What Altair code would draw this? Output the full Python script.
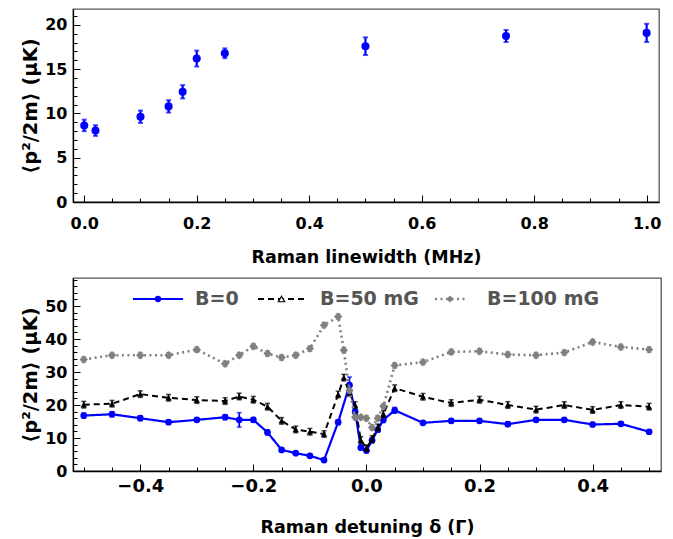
import altair as alt
import pandas as pd

FONT = "DejaVu Sans"
BLUE = "#0000ff"
BLACK = "#000000"
GRAY = "#808080"

# ---------------- top panel data ----------------
lw_x = [0.0, 0.02, 0.1, 0.15, 0.175, 0.2, 0.25, 0.5, 0.75, 1.0]
lw_y = [8.65, 8.07, 9.63, 10.8, 12.45, 16.2, 16.8, 17.6, 18.75, 19.1]
lw_err = [0.65, 0.6, 0.7, 0.7, 0.75, 0.9, 0.55, 1.0, 0.68, 1.03]

# ---------------- bottom panel data ----------------
det_x = [-0.5, -0.45, -0.4, -0.35, -0.3, -0.25, -0.225, -0.2, -0.175, -0.15, -0.125,
         -0.1, -0.075, -0.05, -0.04, -0.03, -0.02, -0.01, 0.0, 0.01, 0.02, 0.03,
         0.05, 0.1, 0.15, 0.2, 0.25, 0.3, 0.35, 0.4, 0.45, 0.5]
b0 = [16.8, 17.2, 16.0, 14.8, 15.5, 16.3, 15.5, 15.5, 11.7, 6.4, 5.4,
      4.6, 3.3, 14.8, None, 26.0, 18.0, 7.1, 6.2, 9.3, 12.5, 15.5,
      18.4, 14.6, 15.2, 15.2, 14.2, 15.5, 15.5, 14.1, 14.3, 11.9]
b0_err = [0.8, 0.8, 0.7, 0.6, 0.6, 0.7, 2.2, 0.7, 0.7, 0.5, 0.5,
          0.5, 0.5, 0.7, None, 2.5, 0.8, 0.7, 0.6, 0.7, 0.7, 0.8,
          0.9, 0.6, 0.6, 0.6, 0.6, 0.6, 0.6, 0.6, 0.6, 0.6]
b50 = [20.1, 20.4, 23.3, 22.2, 21.5, 21.2, 22.6, 21.6, 19.5, 15.2, 12.6,
       11.9, 11.2, 23.2, 28.3, 23.7, 20.0, 9.4, 6.9, 9.7, 13.2, 17.3,
       25.1, 22.5, 20.6, 21.6, 20.0, 18.6, 20.0, 18.5, 20.0, 19.5]
b50_err = [1.0] * 32
b100 = [33.8, 35.1, 35.1, 35.1, 36.8, 32.5, 35.1, 37.8, 35.6, 34.4, 35.1,
        37.1, 44.2, 46.8, 36.6, 24.4, 16.3, 16.3, 16.0, 13.2, 16.0, 19.6,
        32.0, 33.0, 36.1, 36.3, 35.3, 35.1, 35.9, 39.1, 37.6, 36.8]
b100_err = [0.8] * 32

series_names = ["B=0", "B=50 mG", "B=100 mG"]
series_colors = [BLUE, BLACK, GRAY]
series_shapes = ["circle", "triangle-up", "diamond"]
series_dash = [[1, 0], [6, 4], [2, 3.5]]
series_width = [2.2, 2.0, 2.6]
series_size = [45, 40, 70]


def label_axis(values, fmt, title, orient, label_fs, label_pad, title_pad, title_fs):
    return alt.Axis(values=values, format=fmt, title=title, orient=orient,
                    ticks=False, grid=False, domain=True, domainColor="black",
                    domainWidth=1.3, labelFont=FONT, labelFontSize=label_fs,
                    labelFontWeight="bold", labelColor="black", labelFlush=False,
                    labelOverlap=False, labelPadding=label_pad,
                    titleFont=FONT, titleFontSize=title_fs, titleFontWeight="bold",
                    titleColor="black", titlePadding=title_pad)


def tick_axis(values, size, orient):
    return alt.Axis(values=values, orient=orient, labels=False, domain=False,
                    grid=False, ticks=True, tickSize=size, offset=-size,
                    tickColor="black", tickWidth=1)


def frange(a, b, step):
    n = int(round((b - a) / step))
    return [round(a + i * step, 4) for i in range(n + 1)]


# ---------------- top chart ----------------
top_df = pd.DataFrame({"x": lw_x, "y": lw_y, "err": lw_err})
top_df["lo"] = top_df["y"] - top_df["err"]
top_df["hi"] = top_df["y"] + top_df["err"]

txs = alt.Scale(domain=[-0.02, 1.022], nice=False, zero=False)
tys = alt.Scale(domain=[0, 21.8], nice=False, zero=False)
tb = alt.Chart(top_df)

t_rules = tb.mark_rule(color=BLUE, strokeWidth=2.2).encode(
    x=alt.X("x:Q", scale=txs, axis=None),
    y=alt.Y("lo:Q", scale=tys, axis=None), y2="hi:Q")
t_cap_lo = tb.mark_tick(color=BLUE, orient="horizontal", size=5, thickness=2).encode(
    x=alt.X("x:Q", scale=txs, axis=None), y=alt.Y("lo:Q", scale=tys, axis=None))
t_cap_hi = tb.mark_tick(color=BLUE, orient="horizontal", size=5, thickness=2).encode(
    x=alt.X("x:Q", scale=txs, axis=None), y=alt.Y("hi:Q", scale=tys, axis=None))
t_pts = tb.mark_point(filled=True, color=BLUE, size=65, opacity=1).encode(
    x=alt.X("x:Q", scale=txs,
            axis=label_axis(frange(0, 1, 0.2), ".1f", "Raman linewidth (MHz)", "bottom", 16, 13, 17, 17.5)),
    y=alt.Y("y:Q", scale=tys,
            axis=label_axis(frange(0, 20, 5), "d", "⟨p²/2m⟩ (μK)", "left", 16, 6, 4, 19.5)))
t_major = tb.mark_point(opacity=0).encode(
    x=alt.X("x:Q", scale=txs, axis=tick_axis(frange(0, 1, 0.2), 7, "bottom"), title=None),
    y=alt.Y("y:Q", scale=tys, axis=tick_axis(frange(0, 20, 5), 7, "left"), title=None))
t_minor = tb.mark_point(opacity=0).encode(
    x=alt.X("x:Q", scale=txs, axis=tick_axis(frange(0, 1, 0.05), 4, "bottom"), title=None),
    y=alt.Y("y:Q", scale=tys, axis=tick_axis(frange(0, 21, 1), 4, "left"), title=None))

top = alt.layer(t_rules, t_cap_lo, t_cap_hi, t_pts, t_major, t_minor).resolve_axis(
    x="independent", y="independent").properties(width=586, height=193)

# ---------------- bottom chart ----------------
bxs = alt.Scale(domain=[-0.519, 0.521], nice=False, zero=False)
bys = alt.Scale(domain=[0, 58.5], nice=False, zero=False)

layers = []
all_vals = [b0, b50, b100]
all_errs = [b0_err, b50_err, b100_err]
for name, col, shp, dash, wid, sz, vals, errs in zip(series_names, series_colors, series_shapes,
                                                      series_dash, series_width, series_size,
                                                      all_vals, all_errs):
    rows = [(x, v, e) for x, v, e in zip(det_x, vals, errs) if v is not None]
    df = pd.DataFrame(rows, columns=["x", "y", "err"])
    df["lo"] = df["y"] - df["err"]
    df["hi"] = df["y"] + df["err"]
    base = alt.Chart(df)
    X = alt.X("x:Q", scale=bxs, axis=None)
    layers.append(base.mark_line(color=col, strokeDash=dash, strokeWidth=wid).encode(
        x=X, y=alt.Y("y:Q", scale=bys, axis=None)))
    layers.append(base.mark_rule(color=col, strokeWidth=1.8).encode(
        x=X, y=alt.Y("lo:Q", scale=bys, axis=None), y2="hi:Q"))
    layers.append(base.mark_tick(color=col, orient="horizontal", size=5, thickness=1.5).encode(
        x=X, y=alt.Y("lo:Q", scale=bys, axis=None)))
    layers.append(base.mark_tick(color=col, orient="horizontal", size=5, thickness=1.5).encode(
        x=X, y=alt.Y("hi:Q", scale=bys, axis=None)))
    layers.append(base.mark_point(filled=True, color=col, shape=shp, size=sz, opacity=1).encode(
        x=X, y=alt.Y("y:Q", scale=bys, axis=None)))

axis_df = pd.DataFrame({"x": det_x, "y": b50})
ab = alt.Chart(axis_df)
b_lab = ab.mark_point(opacity=0).encode(
    x=alt.X("x:Q", scale=bxs,
            axis=label_axis(frange(-0.4, 0.4, 0.2), ".1f", "Raman detuning δ (Γ)", "bottom", 18, 6, 23, 17.5)),
    y=alt.Y("y:Q", scale=bys,
            axis=label_axis(frange(0, 50, 10), "d", "⟨p²/2m⟩ (μK)", "left", 16, 6, 4, 19.5)))
b_major = ab.mark_point(opacity=0).encode(
    x=alt.X("x:Q", scale=bxs, axis=tick_axis(frange(-0.4, 0.4, 0.2), 7, "bottom"), title=None),
    y=alt.Y("y:Q", scale=bys, axis=tick_axis(frange(0, 50, 10), 7, "left"), title=None))
b_minor = ab.mark_point(opacity=0).encode(
    x=alt.X("x:Q", scale=bxs, axis=tick_axis(frange(-0.5, 0.5, 0.05), 4, "bottom"), title=None),
    y=alt.Y("y:Q", scale=bys, axis=tick_axis(frange(0, 58, 2), 4, "left"), title=None))

# manual legend (pixel layout inside plot area)
leg_line_x = [(60, 110), (185, 232), (362, 392)]
leg_text_x = [122, 247, 414]
leg_y = 21
leg_layers = []
leg_df = pd.DataFrame({"k": [0]})
for i, name in enumerate(series_names):
    lb = alt.Chart(leg_df)
    x1, x2 = leg_line_x[i]
    leg_layers.append(lb.mark_rule(color=series_colors[i], strokeDash=series_dash[i],
                                   strokeWidth=series_width[i]).encode(
        x=alt.value(x1), x2=alt.value(x2), y=alt.value(leg_y)))
    if i == 1:
        leg_layers.append(lb.mark_point(shape="triangle-up", filled=True, fill="white",
                                        stroke="black", strokeWidth=1.2, size=40, opacity=1).encode(
            x=alt.value((x1 + x2) / 2), y=alt.value(leg_y)))
    else:
        leg_layers.append(lb.mark_point(shape=series_shapes[i], filled=True,
                                        color=series_colors[i], size=40 if i == 0 else 50,
                                        opacity=1).encode(
            x=alt.value((x1 + x2) / 2), y=alt.value(leg_y)))
    leg_layers.append(lb.mark_text(text=name, align="left", baseline="middle", font=FONT,
                                   fontSize=19, fontWeight="bold", color="#555555").encode(
        x=alt.value(leg_text_x[i]), y=alt.value(leg_y)))

bottom = alt.layer(*layers, b_lab, b_major, b_minor, *leg_layers).resolve_axis(
    x="independent", y="independent").properties(width=588, height=193)

chart = alt.vconcat(top, bottom, spacing=10).properties(
    padding={"left": 12, "top": 0, "right": 2, "bottom": 0}
).configure_view(stroke="#555555", strokeWidth=1.3)

chart.save("out.html", embed_options={"renderer": "svg", "actions": False})
